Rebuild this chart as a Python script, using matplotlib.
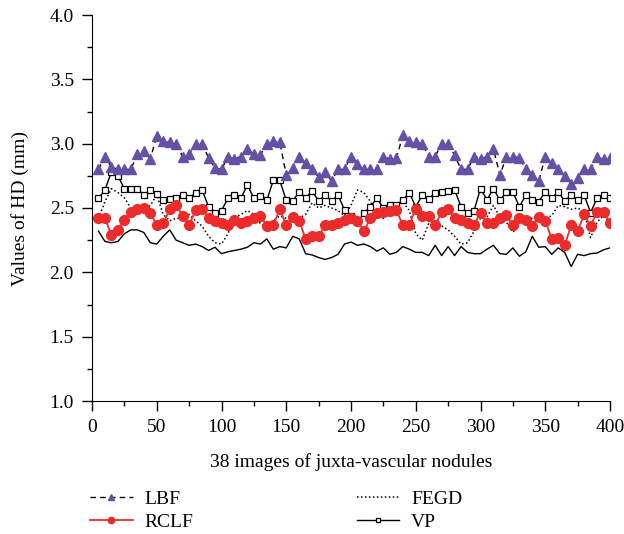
import matplotlib
matplotlib.use("Agg")
import matplotlib.pyplot as plt
import numpy as np
from matplotlib.ticker import MultipleLocator

plt.rcParams['font.family'] = ['Liberation Serif', 'DejaVu Serif']

x = np.arange(5, 401, 5)

lbf = [2.80, 2.90, 2.82, 2.80, 2.80, 2.80, 2.92, 2.94, 2.88, 3.06, 3.02, 3.01, 3.00,
       2.90, 2.92, 3.00, 3.00, 2.89, 2.81, 2.80, 2.90, 2.88, 2.90, 2.96, 2.92, 2.91, 3.00,
       3.02, 3.01, 2.76, 2.81, 2.90, 2.85, 2.80, 2.74, 2.78, 2.71, 2.80, 2.80, 2.90,
       2.84, 2.80, 2.80, 2.80, 2.90, 2.88, 2.885, 3.065, 3.02, 3.01, 3.00, 2.90, 2.90,
       3.00, 3.00, 2.91, 2.80, 2.80, 2.90, 2.88, 2.90, 2.96, 2.755, 2.90, 2.90, 2.89, 2.80,
       2.76, 2.71, 2.90, 2.85, 2.80, 2.745, 2.69, 2.73, 2.80, 2.80, 2.90, 2.88, 2.885]

rclf = [2.42, 2.42, 2.29, 2.33, 2.41, 2.47, 2.49, 2.50, 2.46, 2.37, 2.38, 2.49, 2.52,
        2.44, 2.365, 2.485, 2.495, 2.42, 2.40, 2.385, 2.365, 2.41, 2.385, 2.40, 2.42, 2.44, 2.36,
        2.365, 2.49, 2.365, 2.43, 2.40, 2.26, 2.28, 2.28, 2.365, 2.37, 2.38, 2.41, 2.42,
        2.40, 2.32, 2.42, 2.46, 2.47, 2.475, 2.485, 2.365, 2.37, 2.495, 2.435, 2.44, 2.365,
        2.47, 2.495, 2.42, 2.405, 2.385, 2.37, 2.46, 2.38, 2.385, 2.42, 2.445, 2.365, 2.42, 2.41,
        2.36, 2.43, 2.40, 2.26, 2.27, 2.21, 2.365, 2.32, 2.45, 2.36, 2.47, 2.47, 2.385]

fegd = [2.42, 2.55, 2.65, 2.62, 2.58, 2.50, 2.45, 2.48, 2.52, 2.60, 2.45, 2.40, 2.42,
        2.42, 2.45, 2.40, 2.36, 2.28, 2.23, 2.22, 2.30, 2.42, 2.45, 2.48, 2.45, 2.38, 2.35,
        2.40, 2.44, 2.42, 2.45, 2.42, 2.45, 2.54, 2.50, 2.52, 2.50, 2.48, 2.44, 2.52,
        2.64, 2.62, 2.55, 2.45, 2.42, 2.45, 2.50, 2.55, 2.48, 2.30, 2.25, 2.38, 2.32,
        2.36, 2.33, 2.28, 2.22, 2.23, 2.32, 2.42, 2.43, 2.52, 2.43, 2.39, 2.31, 2.38, 2.42,
        2.42, 2.44, 2.42, 2.44, 2.52, 2.51, 2.49, 2.50, 2.47, 2.27, 2.39, 2.44, 2.37]

vp = [2.575, 2.64, 2.78, 2.75, 2.65, 2.65, 2.65, 2.60, 2.64, 2.61, 2.56, 2.57, 2.575,
      2.60, 2.575, 2.62, 2.64, 2.51, 2.46, 2.48, 2.575, 2.60, 2.575, 2.68, 2.575, 2.59, 2.56,
      2.715, 2.715, 2.56, 2.555, 2.625, 2.58, 2.63, 2.555, 2.60, 2.555, 2.60, 2.485, 2.44,
      2.39, 2.46, 2.51, 2.575, 2.50, 2.525, 2.525, 2.56, 2.62, 2.51, 2.60, 2.57, 2.62,
      2.625, 2.635, 2.64, 2.51, 2.46, 2.48, 2.65, 2.565, 2.65, 2.56, 2.625, 2.625, 2.51, 2.60,
      2.56, 2.55, 2.625, 2.575, 2.625, 2.555, 2.60, 2.56, 2.60, 2.465, 2.575, 2.60, 2.575]

# unlabeled solid line at the bottom
base = [2.32, 2.24, 2.23, 2.24, 2.30, 2.33, 2.33, 2.31, 2.23, 2.22, 2.28, 2.33, 2.25,
        2.23, 2.21, 2.22, 2.20, 2.17, 2.195, 2.145, 2.16, 2.17, 2.18, 2.195, 2.23, 2.22, 2.26,
        2.18, 2.20, 2.19, 2.28, 2.26, 2.145, 2.135, 2.115, 2.10, 2.115, 2.14, 2.22, 2.235,
        2.21, 2.22, 2.20, 2.165, 2.19, 2.14, 2.155, 2.20, 2.18, 2.155, 2.155, 2.13, 2.21,
        2.13, 2.20, 2.13, 2.20, 2.155, 2.145, 2.145, 2.18, 2.21, 2.145, 2.14, 2.19, 2.125, 2.16,
        2.28, 2.195, 2.20, 2.14, 2.19, 2.155, 2.045, 2.14, 2.13, 2.145, 2.15, 2.175, 2.19]

purple = '#6650a6'
red = '#ee2b2b'

fig = plt.figure(figsize=(6.24, 5.34), dpi=100)
ax = fig.add_axes([92 / 624, 1 - 401 / 534, 518 / 624, 386 / 534])

ax.plot(x, base, color='black', linewidth=1.0, label='_nolegend_')
ax.plot(x, fegd, color='black', linestyle=(0, (1.0, 1.6)), linewidth=1.1, label='FEGD')
ax.plot(x, vp, color='black', linewidth=1.0, marker='s', markersize=5,
        markerfacecolor='white', markeredgecolor='black', markeredgewidth=0.9, label='VP')
ax.plot(x, rclf, color=red, linewidth=1.3, marker='o', markersize=7,
        markerfacecolor=red, markeredgecolor=red, label='RCLF')
ax.plot(x, lbf, color='black', linestyle=(0, (4, 3)), linewidth=1.0, marker='^', markersize=6.5,
        markerfacecolor=purple, markeredgecolor=purple, label='LBF')

ax.set_xlim(0, 400)
ax.set_ylim(1.0, 4.0)
ax.xaxis.set_major_locator(MultipleLocator(50))
ax.xaxis.set_minor_locator(MultipleLocator(25))
ax.yaxis.set_major_locator(MultipleLocator(0.5))
ax.yaxis.set_minor_locator(MultipleLocator(0.25))
ax.yaxis.set_major_formatter(plt.FormatStrFormatter('%.1f'))
ax.tick_params(which='major', direction='out', length=7, width=1, labelsize=14, pad=6)
ax.tick_params(which='minor', direction='out', length=3.3, width=1)
ax.spines['top'].set_visible(False)
ax.spines['right'].set_visible(False)

ax.set_xlabel('38 images of juxta-vascular nodules', fontsize=14, labelpad=12)
ax.set_ylabel('Values of HD (mm)', fontsize=14, labelpad=15)

handles, labels = ax.get_legend_handles_labels()
order = ['LBF', 'RCLF', 'FEGD', 'VP']
h = [handles[labels.index(n)] for n in order]
fig.legend(h, order, loc='upper left', bbox_to_anchor=(90 / 624, 1 - 490 / 534), ncol=2,
           frameon=False, fontsize=14, handlelength=2.2, handletextpad=0.6, markerscale=0.65,
           columnspacing=8.4, labelspacing=0.3, borderpad=0, borderaxespad=0)

fig.savefig('out.png', dpi=100)
